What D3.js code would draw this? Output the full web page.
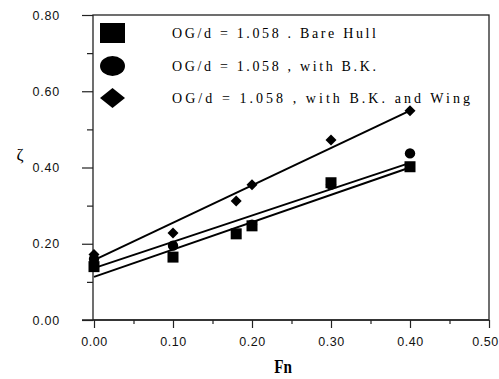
<!DOCTYPE html>
<html>
<head>
<meta charset="utf-8">
<script src="https://cdn.jsdelivr.net/npm/d3@7"></script>
<style>
  body { margin: 0; background: #fff; }
  svg { display: block; }
</style>
</head>
<body>
<div id="container"></div>
<script>
'use strict'
// data
const xTicks = [0, 0.1, 0.2, 0.3, 0.4, 0.5]
const yTicks = [0, 0.2, 0.4, 0.6, 0.8]
const legendLabels = ["OG/d = 1.058 . Bare Hull", "OG/d = 1.058 , with B.K.", "OG/d = 1.058 , with B.K. and Wing"]

const fnBare = [0, 0.1, 0.18, 0.2, 0.3, 0.4]
const zetaBare = [0.14, 0.165, 0.226, 0.247, 0.36, 0.402]
const fnBK = [0, 0.1, 0.2, 0.3, 0.4]
const zetaBK = [0.16, 0.195, 0.25, 0.355, 0.437]
const fnWing = [0, 0.1, 0.18, 0.2, 0.3, 0.4]
const zetaWing = [0.172, 0.228, 0.312, 0.355, 0.472, 0.549]

// fitted straight lines [fn0, zeta0, fn1, zeta1]
const fitBare = [0, 0.113, 0.4, 0.400]
const fitBK = [0, 0.136, 0.4, 0.412]
const fitWing = [0, 0.157, 0.4, 0.549]

const w = 499, h = 379
const svg = d3.select("#container").append("svg").attr("width", w).attr("height", h)

const x = d3.scaleLinear().domain([0, 0.5]).range([94, 489])
const y = d3.scaleLinear().domain([0, 0.8]).range([320, 15])

// box
svg.append("rect").attr("x", 93).attr("y", y(0.8)).attr("width", x(0.5) - 93).attr("height", y(0) - y(0.8))
   .attr("fill", "none").attr("stroke", "#222").attr("stroke-width", 1.3)

// axes
const yAxis = d3.axisLeft(y).tickValues(yTicks).tickFormat(d3.format(".2f")).tickSize(11).tickPadding(22)
const gy = svg.append("g").attr("transform", "translate(93,0)").call(yAxis)
gy.select(".domain").remove()
gy.selectAll(".tick text").style("font-family", "'Liberation Sans', Arial, sans-serif").style("font-size", "12.5px")
  .style("letter-spacing", "0.8px").attr("fill", "#111")
const gyMinor = svg.append("g").attr("transform", "translate(93,0)")
  .call(d3.axisLeft(y).tickValues([0.1, 0.3, 0.5, 0.7]).tickSize(6).tickFormat(""))
gyMinor.select(".domain").remove()

const xAxis = d3.axisBottom(x).tickValues(xTicks).tickFormat(d3.format(".2f")).tickSize(8).tickPadding(9)
const gx = svg.append("g").attr("transform", "translate(0,320)").call(xAxis)
gx.select(".domain").remove()
gx.selectAll(".tick text").style("font-family", "'Liberation Sans', Arial, sans-serif").style("font-size", "12.5px")
  .style("letter-spacing", "0.5px").attr("fill", "#111")
  .attr("dx", (d, i) => i === xTicks.length - 1 ? -4 : 0)
const gxMinor = svg.append("g").attr("transform", "translate(0,320)")
  .call(d3.axisBottom(x).tickValues([0.05, 0.15, 0.25, 0.35, 0.45]).tickSize(4).tickFormat(""))
gxMinor.select(".domain").remove()
svg.selectAll(".tick line").attr("stroke", "#222").attr("stroke-width", 1.2)
svg.append("line").attr("x1", 82).attr("x2", x(0.5)).attr("y1", 320).attr("y2", 320)
   .attr("stroke", "#222").attr("stroke-width", 1.3)

// axis titles
svg.append("text").text("ζ").attr("x", 20).attr("y", 160).attr("text-anchor", "middle")
   .style("font-family", "'Liberation Serif', serif").style("font-size", "17px")
svg.append("text").text("Fn").attr("x", 283).attr("y", 373).attr("text-anchor", "middle")
   .attr("transform", "translate(283,373) scale(0.8,1) translate(-283,-373)")
   .style("font-family", "'Liberation Serif', serif").style("font-size", "19px").style("font-weight", "bold")

// fit lines
;[fitBare, fitBK, fitWing].forEach(function(f) {
  svg.append("line").attr("x1", x(f[0])).attr("y1", y(f[1])).attr("x2", x(f[2])).attr("y2", y(f[3]))
     .attr("stroke", "#000").attr("stroke-width", 2)
})

// markers
svg.selectAll(".bk").data(d3.zip(fnBK, zetaBK)).enter().append("circle")
   .attr("cx", d => x(d[0])).attr("cy", d => y(d[1])).attr("r", 5.2).attr("fill", "#000")
svg.selectAll(".bare").data(d3.zip(fnBare, zetaBare)).enter().append("rect")
   .attr("x", d => x(d[0]) - 5.5).attr("y", d => y(d[1]) - 5.5).attr("width", 11).attr("height", 11).attr("fill", "#000")
svg.selectAll(".wing").data(d3.zip(fnWing, zetaWing)).enter().append("path")
   .attr("d", "M0,-5.5L5.5,0L0,5.5L-5.5,0Z")
   .attr("transform", d => "translate(" + x(d[0]) + "," + y(d[1]) + ")").attr("fill", "#000")

// legend
const legendY = [33, 66, 98]
svg.append("rect").attr("x", 100).attr("y", legendY[0] - 10).attr("width", 25).attr("height", 20).attr("fill", "#000")
svg.append("ellipse").attr("cx", 112.5).attr("cy", legendY[1]).attr("rx", 12.5).attr("ry", 10).attr("fill", "#000")
svg.append("path").attr("d", "M100,98L112.5,88L125,98L112.5,108Z").attr("fill", "#000")
const legendEnds = [376, 376, 470]
legendLabels.forEach(function(t, i) {
  svg.append("text").text(t).attr("x", 172).attr("y", legendY[i] + 5)
     .attr("textLength", legendEnds[i] - 172).attr("lengthAdjust", "spacing")
     .style("font-family", "'Liberation Serif', serif").style("font-size", "14px").attr("fill", "#000")
})
</script>
</body>
</html>
